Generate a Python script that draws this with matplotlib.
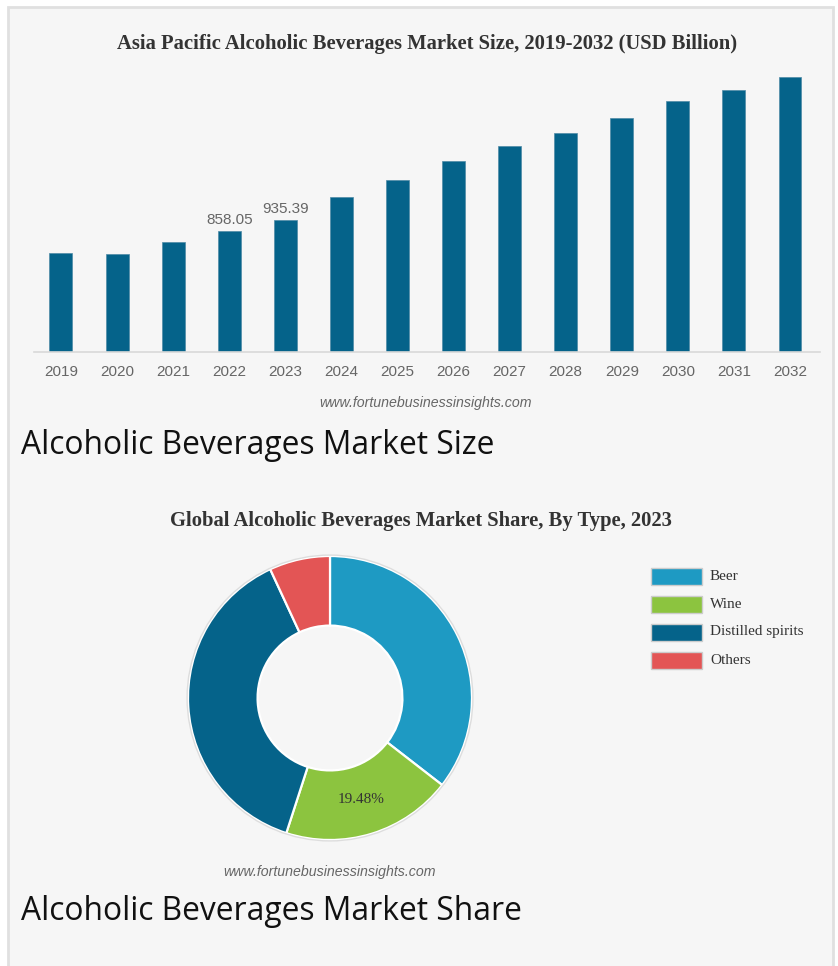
import matplotlib
matplotlib.use("Agg")
import matplotlib.pyplot as plt
from matplotlib.patches import Rectangle, Circle

# ---------------- data ----------------
years = ["2019", "2020", "2021", "2022", "2023", "2024", "2025", "2026",
         "2027", "2028", "2029", "2030", "2031", "2032"]
market_size = [705, 696, 779, 858.05, 935.39, 1100, 1221, 1356,
               1463, 1553, 1661, 1782, 1860, 1950]
labelled_years = ["2022", "2023"]

types = ["Beer", "Wine", "Distilled spirits", "Others"]
type_share = [35.5, 19.48, 38.1, 6.92]
labelled_types = ["Wine"]

title1 = "Asia Pacific Alcoholic Beverages Market Size, 2019-2032 (USD Billion)"
title2 = "Global Alcoholic Beverages Market Share, By Type, 2023"
source = "www.fortunebusinessinsights.com"
heading1 = "Alcoholic Beverages Market Size"
heading2 = "Alcoholic Beverages Market Share"

# ---------------- style ----------------
W, H = 838, 966
BG = "#f6f6f6"
BAR = "#05638a"
PIE_COLORS = ["#1e9ac3", "#8cc43f", "#05638a", "#e35555"]
SERIF = ["Liberation Serif", "DejaVu Serif"]
SANS = ["Liberation Sans", "DejaVu Sans"]
HEAD = ["Open Sans", "DejaVu Sans"]


def box(l, t, r, b):
    return [l / W, 1 - b / H, (r - l) / W, (b - t) / H]


def fx(x):
    return x / W


def fy(y):
    return 1 - y / H


fig = plt.figure(figsize=(W / 100, H / 100), dpi=100)
fig.patch.set_facecolor("white")

# panel background with border
fig.patches.append(Rectangle((fx(8), fy(975)), fx(833) - fx(8), fy(7) - fy(975),
                             transform=fig.transFigure, facecolor=BG,
                             edgecolor="#e0e0e0", linewidth=2.0, zorder=-10))

# ---------------- bar chart ----------------
ax = fig.add_axes(box(34, 52, 820, 352))
ax.set_facecolor("none")
xs = list(range(len(years)))
bars = ax.bar(xs, market_size, width=0.41, color=BAR, edgecolor="#4f8aa6",
              linewidth=0.5, zorder=2)
ax.set_xlim(-0.481, 13.535)
ax.set_ylim(0, 300 * 7.1)
ax.set_xticks(xs)
ax.set_xticklabels(years, fontsize=11, color="#666666", family=SANS)
ax.tick_params(axis="x", length=0, pad=9)
ax.set_yticks([])
for s in ["top", "right", "left"]:
    ax.spines[s].set_visible(False)
ax.spines["bottom"].set_color("#d9d9d9")
ax.spines["bottom"].set_linewidth(1.2)
for x, y, v in zip(xs, market_size, years):
    if v in labelled_years:
        ax.annotate(f"{y:.2f}", (x, y), xytext=(0, 3), textcoords="offset points",
                    ha="center", va="bottom", fontsize=11, color="#666666",
                    family=SANS)

fig.text(fx(427), fy(44), title1, ha="center", va="center", fontsize=14.9,
         fontweight="bold", color="#333333", family=SERIF)
fig.text(fx(426), fy(403), source, ha="center", va="center", fontsize=10.2,
         style="italic", color="#666666", family=SANS)
fig.text(fx(21), fy(445), heading1, ha="left", va="center", fontsize=22.9,
         color="#111111", family=HEAD)

# ---------------- donut chart ----------------
pax = fig.add_axes(box(330 - 150, 698 - 150, 330 + 150, 698 + 150))
pax.set_facecolor("none")
R = 142 / 150


def fmt_pct(p, it=iter(types)):
    name = next(it)
    return f"{p:.2f}%" if name in labelled_types else ""


wedges, texts, autotexts = pax.pie(
    type_share, colors=PIE_COLORS, startangle=90, counterclock=False,
    radius=R, autopct=fmt_pct, pctdistance=0.75,
    wedgeprops=dict(width=R * 0.49, edgecolor="white", linewidth=1.6),
    textprops=dict(fontsize=11, color="#333333", family=SERIF))
pax.add_patch(Circle((0, 0), R + 0.006, fill=False, edgecolor="#dddddd", lw=1.0))
pax.set_xlim(-1, 1)
pax.set_ylim(-1, 1)
pax.set_aspect("equal")
pax.axis("off")

fig.text(fx(421), fy(521), title2, ha="center", va="center", fontsize=14.9,
         fontweight="bold", color="#333333", family=SERIF)

# legend
for i, (name, col) in enumerate(zip(types, PIE_COLORS)):
    yc = 576 + 28 * i
    fig.patches.append(Rectangle((fx(651), fy(yc + 8.5)), fx(702) - fx(651), 17 / H,
                                 transform=fig.transFigure, facecolor=col,
                                 edgecolor="#cccccc", linewidth=1.0, zorder=3))
    fig.text(fx(710), fy(yc), name, ha="left", va="center", fontsize=11,
             color="#333333", family=SERIF)

fig.text(fx(330), fy(872), source, ha="center", va="center", fontsize=10.2,
         style="italic", color="#666666", family=SANS)
fig.text(fx(21), fy(912), heading2, ha="left", va="center", fontsize=22.9,
         color="#111111", family=HEAD)

fig.savefig("out.png", dpi=100, facecolor=fig.get_facecolor())
